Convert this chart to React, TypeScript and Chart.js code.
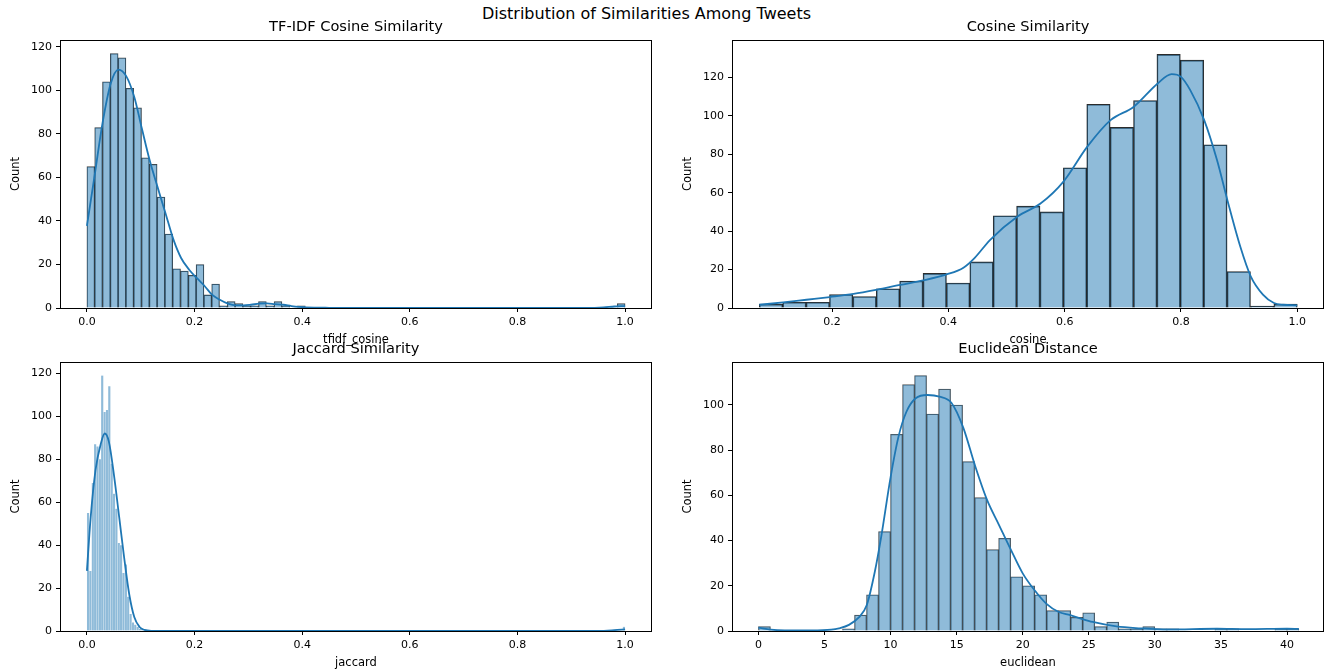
import React, { useEffect, useRef } from "react";
import { Chart, registerables } from "chart.js";

Chart.register(...registerables);

const FONT = "'DejaVu Sans', 'Liberation Sans', sans-serif";

// ---------- TF-IDF cosine similarity ----------
const tfidfBinStart = 0;
const tfidfBinWidth = 1 / 69;
const tfidfBinIndex = [0, 1, 2, 3, 4, 5, 6, 7, 8, 9, 10, 11, 12, 13, 14, 15, 16, 17, 18, 19, 20, 21, 22, 23, 24, 25, 27, 68];
const tfidfCounts = [65, 83, 104, 117, 115, 101, 92, 69, 66, 51, 34, 18, 17, 15, 20, 6, 11, 1, 3, 2, 1, 1, 3, 1, 3, 1, 1, 2];
const tfidfKdeX = [0, 0.015, 0.029, 0.044, 0.0586, 0.073, 0.088, 0.102, 0.1165, 0.131, 0.146, 0.161, 0.175, 0.19, 0.204, 0.219, 0.233, 0.247, 0.262, 0.277, 0.291, 0.305, 0.32, 0.334, 0.349, 0.365, 0.38, 0.394, 0.407, 0.45, 0.5, 0.93, 0.96, 0.98, 1.0];
const tfidfKdeY = [37.8, 62, 85, 103, 109.6, 106.6, 97, 82.6, 68, 55.8, 43.6, 31.3, 23, 17.6, 13.8, 10, 6, 3.8, 2, 1.2, 1.2, 1.5, 2, 2.1, 1.8, 1.5, 0.9, 0.5, 0.3, 0.1, 0.05, 0.05, 0.3, 0.7, 0.9];

// ---------- Cosine similarity ----------
const cosineBinStart = 0.075;
const cosineBinWidth = 0.925 / 23;
const cosineBinIndex = [0, 1, 2, 3, 4, 5, 6, 7, 8, 9, 10, 11, 12, 13, 14, 15, 16, 17, 18, 19, 20, 21, 22];
const cosineCounts = [2, 3, 3, 7, 6, 10, 14, 18, 13, 24, 48, 53, 50, 73, 106, 94, 108, 132, 129, 85, 19, 1, 2];
const cosineKdeX = [0.075, 0.116, 0.156, 0.196, 0.237, 0.277, 0.317, 0.357, 0.397, 0.426, 0.445, 0.472, 0.519, 0.559, 0.598, 0.639, 0.679, 0.719, 0.76, 0.784, 0.8, 0.816, 0.84, 0.862, 0.88, 0.902, 0.92, 0.941, 0.96, 0.976, 1.0];
const cosineKdeY = [1.7, 2.9, 4.3, 5.7, 7.3, 9.5, 12, 14.4, 17.5, 21, 26, 35.5, 47.6, 54.5, 65.8, 84, 97.8, 104.8, 116.9, 121.7, 120.3, 113.4, 97.8, 77, 56, 32, 16.5, 7, 2.6, 1.7, 1.4];

// ---------- Jaccard similarity ----------
const jaccardBinStart = 0;
const jaccardBinWidth = 1 / 228;
const jaccardBinIndex = [0, 1, 2, 3, 4, 5, 6, 7, 8, 9, 10, 11, 12, 13, 14, 15, 16, 17, 18, 19, 20, 21, 22, 23, 227];
const jaccardCounts = [55, 28, 69, 87, 86, 80, 119, 102, 103, 114, 78, 64, 57, 41, 40, 27, 31, 16, 8, 4, 3, 2, 1, 1, 2];
const jaccardKdeX = [0, 0.007, 0.016, 0.0256, 0.033, 0.041, 0.0506, 0.06, 0.0693, 0.0787, 0.088, 0.0974, 0.107, 0.12, 0.2, 0.95, 0.98, 1.0];
const jaccardKdeY = [28, 53, 75, 87, 92, 88, 72, 53, 34, 17, 6.5, 2, 0.5, 0.1, 0.05, 0.05, 0.4, 0.8];

// ---------- Euclidean distance ----------
const euclidBinStart = 0;
const euclidBinWidth = 40.9 / 45;
const euclidBinIndex = [0, 7, 8, 9, 10, 11, 12, 13, 14, 15, 16, 17, 18, 19, 20, 21, 22, 23, 24, 25, 26, 27, 28, 29, 30, 31, 32, 33, 34, 38, 39, 43, 44];
const euclidCounts = [2, 1, 7, 16, 44, 87, 109, 113, 96, 107, 100, 75, 59, 36, 41, 24, 20, 16, 9, 9, 6, 8, 2, 4, 1, 1, 2, 1, 1, 1, 1, 1, 1];
const euclidKdeX = [0, 0.93, 2, 4, 5.5, 6.1, 6.85, 7.6, 8.2, 8.8, 9.3, 10.0, 10.6, 11.2, 11.9, 12.8, 13.7, 14.6, 15.5, 16.4, 17.3, 18.2, 19.1, 20.0, 20.9, 21.8, 22.7, 23.6, 24.4, 25.3, 27.1, 28.9, 31, 34.7, 37, 40, 40.9];
const euclidKdeY = [1.5, 0.6, 0.3, 0.3, 0.6, 1.2, 2.7, 6, 11.5, 26, 42, 68, 86, 97, 103, 104.4, 103.7, 101, 90, 73, 58, 47, 36, 25.5, 18, 12, 8.5, 7, 5.5, 4, 2, 1.2, 0.7, 1, 0.8, 1, 0.9];

// ---------- tick labels ----------
const unitTicks = [0, 0.2, 0.4, 0.6, 0.8, 1.0];
const cosineTicks = [0.2, 0.4, 0.6, 0.8, 1.0];
const euclidTicks = [0, 5, 10, 15, 20, 25, 30, 35, 40];
const countTicks120 = [0, 20, 40, 60, 80, 100, 120];
const countTicks100 = [0, 20, 40, 60, 80, 100];

const SUPTITLE = "Distribution of Similarities Among Tweets";

type PanelCfg = {
  title: string;
  xlabel: string;
  binStart: number;
  binWidth: number;
  binIndex: number[];
  counts: number[];
  kdeX: number[];
  kdeY: number[];
  xMin: number;
  xMax: number;
  yMax: number;
  xTicks: number[];
  yTicks: number[];
  xDecimals: number;
  edgeColor: string;
  edgeWidth: number;
  L: number;
  T: number;
  R: number;
  B: number;
  padR: number;
};

const Y_AXIS_W = 60;
const TITLE_H = 22;
const X_AXIS_H = 48;

const framePlugin = {
  id: "frameBox",
  afterDatasetsDraw(chart: any) {
    const { ctx, chartArea } = chart;
    const l = Math.round(chartArea.left);
    const t = Math.round(chartArea.top);
    const r = Math.round(chartArea.right);
    const b = Math.round(chartArea.bottom);
    ctx.save();
    ctx.strokeStyle = "#000";
    ctx.lineWidth = 1;
    ctx.strokeRect(l + 0.5, t + 0.5, r - l - 1, b - t);
    ctx.restore();
  },
};

function Panel({ cfg }: { cfg: PanelCfg }) {
  const ref = useRef<HTMLCanvasElement | null>(null);
  const left = cfg.L - Y_AXIS_W;
  const top = cfg.T - TITLE_H;
  const width = cfg.R - left + cfg.padR;
  const height = cfg.B - top + X_AXIS_H;

  useEffect(() => {
    if (!ref.current) return;
    const bars = cfg.binIndex.map((k, i) => ({
      x: cfg.binStart + (k + 0.5) * cfg.binWidth,
      y: cfg.counts[i],
    }));
    const kde = cfg.kdeX.map((x, i) => ({ x, y: cfg.kdeY[i] }));
    const tickFont = { family: FONT, size: 11, weight: "normal" as const };
    const labelFont = { family: FONT, size: 11.5, weight: "normal" as const };
    const chart = new Chart(ref.current, {
      type: "bar",
      data: {
        datasets: [
          {
            type: "line",
            data: kde,
            borderColor: "#1f77b4",
            borderWidth: 1.8,
            pointRadius: 0,
            cubicInterpolationMode: "monotone",
            fill: false,
            order: 0,
          } as any,
          {
            type: "bar",
            data: bars,
            backgroundColor: "rgba(31,119,180,0.5)",
            borderColor: cfg.edgeColor,
            borderWidth: cfg.edgeWidth,
            barPercentage: 1,
            categoryPercentage: 1,
            order: 1,
          } as any,
        ],
      },
      options: {
        animation: false,
        responsive: false,
        maintainAspectRatio: false,
        events: [],
        layout: { padding: { left: 0, top: 0, right: cfg.padR, bottom: 0 } },
        plugins: {
          legend: { display: false },
          tooltip: { enabled: false },
          title: {
            display: true,
            fullSize: false,
            text: cfg.title,
            color: "#000",
            font: { family: FONT, size: 14.6, weight: "normal", lineHeight: 1.2 },
            padding: { top: 0.5, bottom: 4 },
          },
        },
        scales: {
          x: {
            type: "linear",
            min: cfg.xMin,
            max: cfg.xMax,
            offset: false,
            afterFit: (s: any) => {
              s.height = X_AXIS_H;
            },
            afterBuildTicks: (a: any) => {
              a.ticks = cfg.xTicks.map((v) => ({ value: v }));
            },
            grid: { display: true, offset: false, drawOnChartArea: false, drawTicks: true, tickLength: 4, tickColor: "#000" },
            border: { display: false },
            ticks: {
              color: "#000",
              font: tickFont,
              padding: 4,
              maxRotation: 0,
              autoSkip: false,
              includeBounds: false,
              callback: (v: any) => Number(v).toFixed(cfg.xDecimals),
            },
            title: {
              display: true,
              text: cfg.xlabel,
              color: "#000",
              font: labelFont,
              padding: { top: 0, bottom: 9.5 },
            },
          },
          y: {
            type: "linear",
            min: 0,
            max: cfg.yMax,
            afterFit: (s: any) => {
              s.width = Y_AXIS_W;
            },
            afterBuildTicks: (a: any) => {
              a.ticks = cfg.yTicks.map((v) => ({ value: v }));
            },
            grid: { display: true, offset: false, drawOnChartArea: false, drawTicks: true, tickLength: 4, tickColor: "#000" },
            border: { display: false },
            ticks: {
              color: "#000",
              font: tickFont,
              padding: 4,
              autoSkip: false,
              includeBounds: false,
              callback: (v: any) => String(Math.round(Number(v))),
            },
            title: {
              display: true,
              text: "Count",
              color: "#000",
              font: labelFont,
              padding: { top: 8.7, bottom: 0 },
            },
          },
        },
      } as any,
      plugins: [framePlugin],
    });
    return () => chart.destroy();
  }, []);

  return (
    <canvas
      ref={ref}
      width={width}
      height={height}
      style={{ position: "absolute", left, top, width, height }}
    />
  );
}

const panels: PanelCfg[] = [
  {
    title: "TF-IDF Cosine Similarity",
    xlabel: "tfidf_cosine",
    binStart: tfidfBinStart,
    binWidth: tfidfBinWidth,
    binIndex: tfidfBinIndex,
    counts: tfidfCounts,
    kdeX: tfidfKdeX,
    kdeY: tfidfKdeY,
    xMin: -0.05,
    xMax: 1.05,
    yMax: 123.2,
    xTicks: unitTicks,
    yTicks: countTicks120,
    xDecimals: 1,
    edgeColor: "rgba(20,20,20,0.8)",
    edgeWidth: 0.6,
    L: 60,
    T: 40,
    R: 652,
    B: 308,
    padR: 10,
  },
  {
    title: "Cosine Similarity",
    xlabel: "cosine",
    binStart: cosineBinStart,
    binWidth: cosineBinWidth,
    binIndex: cosineBinIndex,
    counts: cosineCounts,
    kdeX: cosineKdeX,
    kdeY: cosineKdeY,
    xMin: 0.028,
    xMax: 1.046,
    yMax: 139.5,
    xTicks: cosineTicks,
    yTicks: countTicks120,
    xDecimals: 1,
    edgeColor: "rgba(20,20,20,0.9)",
    edgeWidth: 0.9,
    L: 732,
    T: 40,
    R: 1324,
    B: 308,
    padR: 1,
  },
  {
    title: "Jaccard Similarity",
    xlabel: "jaccard",
    binStart: jaccardBinStart,
    binWidth: jaccardBinWidth,
    binIndex: jaccardBinIndex,
    counts: jaccardCounts,
    kdeX: jaccardKdeX,
    kdeY: jaccardKdeY,
    xMin: -0.05,
    xMax: 1.05,
    yMax: 125.3,
    xTicks: unitTicks,
    yTicks: countTicks120,
    xDecimals: 1,
    edgeColor: "rgba(255,255,255,0.45)",
    edgeWidth: 0.4,
    L: 60,
    T: 362,
    R: 652,
    B: 631,
    padR: 10,
  },
  {
    title: "Euclidean Distance",
    xlabel: "euclidean",
    binStart: euclidBinStart,
    binWidth: euclidBinWidth,
    binIndex: euclidBinIndex,
    counts: euclidCounts,
    kdeX: euclidKdeX,
    kdeY: euclidKdeY,
    xMin: -2.0,
    xMax: 42.8,
    yMax: 119,
    xTicks: euclidTicks,
    yTicks: countTicks100,
    xDecimals: 0,
    edgeColor: "rgba(30,30,30,0.75)",
    edgeWidth: 0.6,
    L: 732,
    T: 362,
    R: 1324,
    B: 631,
    padR: 1,
  },
];

export default function App() {
  return (
    <div
      style={{
        position: "fixed",
        left: 0,
        top: 0,
        width: 1325,
        height: 670,
        overflow: "hidden",
        background: "#fff",
      }}
    >
      <div
        style={{
          position: "absolute",
          left: 0,
          top: 4,
          width: 1293,
          textAlign: "center",
          fontFamily: FONT,
          fontSize: 16,
          lineHeight: "20px",
          color: "#000",
          whiteSpace: "nowrap",
        }}
      >
        {SUPTITLE}
      </div>
      {panels.map((p) => (
        <Panel key={p.title} cfg={p} />
      ))}
    </div>
  );
}
